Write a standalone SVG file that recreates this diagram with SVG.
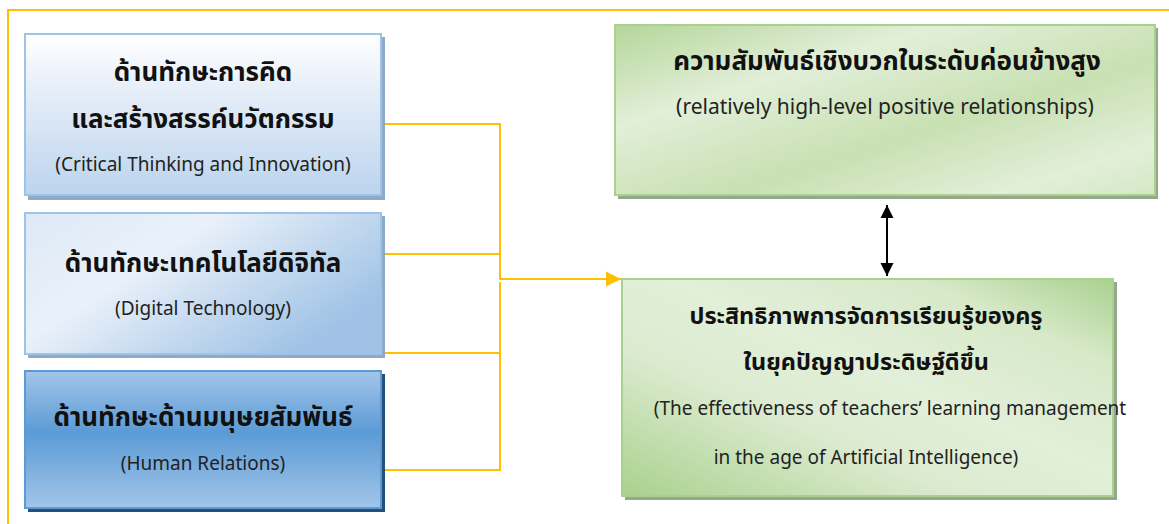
<svg xmlns="http://www.w3.org/2000/svg" width="1169" height="524" viewBox="0 0 1169 524">
<style>
.th{font-family:"Noto Sans Thai","Noto Sans","DejaVu Sans",sans-serif;font-weight:bold;font-size:26px;fill:#111;text-anchor:middle}
.th2{font-size:23.5px}
.en{font-family:"Noto Sans","Liberation Sans",sans-serif;font-size:19px;fill:#222;text-anchor:middle}
.en2{font-size:21px}
.conn{stroke:#ffc000;stroke-width:2;fill:none}
</style>
<defs>
<linearGradient id="gb1" x1="0" y1="0" x2="0" y2="1">
<stop offset="0" stop-color="#ffffff"/><stop offset="0.35" stop-color="#e6eef8"/><stop offset="1" stop-color="#bcd4ee"/>
</linearGradient>
<linearGradient id="gb2" x1="0" y1="0" x2="1" y2="0.6">
<stop offset="0" stop-color="#dde9f6"/><stop offset="0.4" stop-color="#eaf1fa"/><stop offset="0.7" stop-color="#c4d9ef"/><stop offset="1" stop-color="#9fc2e6"/>
</linearGradient>
<linearGradient id="gb3" x1="0" y1="0" x2="0" y2="1">
<stop offset="0" stop-color="#a3c5e9"/><stop offset="0.45" stop-color="#5b9bd5"/><stop offset="1" stop-color="#a3c5e9"/>
</linearGradient>
<linearGradient id="gg" x1="0" y1="0" x2="1" y2="1">
<stop offset="0" stop-color="#b5d69a"/><stop offset="0.3" stop-color="#e2efd9"/><stop offset="0.6" stop-color="#c8e0b2"/><stop offset="0.85" stop-color="#e2efd9"/><stop offset="1" stop-color="#d3e8c4"/>
</linearGradient>
<linearGradient id="gg2" x1="0" y1="1" x2="1" y2="0">
<stop offset="0" stop-color="#a9d18e"/><stop offset="0.35" stop-color="#dcebd0"/><stop offset="0.55" stop-color="#e2efd9"/><stop offset="0.8" stop-color="#d7e9c9"/><stop offset="1" stop-color="#a9d18e"/>
</linearGradient>
<marker id="ya" viewBox="0 0 10 10" refX="10" refY="5" markerWidth="7.5" markerHeight="8" orient="auto" markerUnits="strokeWidth">
<path d="M0,0 L10,5 L0,10 z" fill="#ffc000"/>
</marker>
<marker id="ba" viewBox="0 0 10 10" refX="10" refY="5" markerWidth="6.5" markerHeight="7" orient="auto-start-reverse" markerUnits="strokeWidth">
<path d="M0,0 L10,5 L0,10 z" fill="#000"/>
</marker>
</defs>
<rect width="1169" height="524" fill="#fff"/>
<g id="frame">
<path d="M8,524 V10 H1169" stroke="#ffc000" stroke-width="2" fill="none"/>
</g>
<g id="connectors">
<path class="conn" d="M378,124 H500 V280"/>
<path class="conn" d="M378,254 H500"/>
<path class="conn" d="M378,353 H500"/>
<path class="conn" d="M380,470 H500 V282"/>
<path class="conn" d="M500,279 H621" marker-end="url(#ya)"/>
<path d="M887,205 V276" stroke="#000" stroke-width="2" marker-start="url(#ba)" marker-end="url(#ba)"/>
</g>
<g id="node-critical">
<rect x="28" y="37" width="357" height="163" fill="#8eaac8"/>
<rect x="25" y="34" width="356" height="161" fill="url(#gb1)" stroke="#9dc3e6" stroke-width="2"/>
<text class="th" x="203" y="81">ด้านทักษะการคิด</text>
<text class="th" x="203" y="128">และสร้างสรรค์นวัตกรรม</text>
<text class="en" x="203" y="171">(Critical Thinking and Innovation)</text>
</g>
<g id="node-digital">
<rect x="28" y="216" width="357" height="142" fill="#8eaac8"/>
<rect x="25" y="213" width="356" height="141" fill="url(#gb2)" stroke="#9dc3e6" stroke-width="2"/>
<text class="th" x="203" y="272">ด้านทักษะเทคโนโลยีดิจิทัล</text>
<text class="en" x="203" y="315">(Digital Technology)</text>
</g>
<g id="node-human">
<rect x="28" y="374" width="357" height="138" fill="#264f7a"/>
<rect x="25" y="371" width="356" height="137" fill="url(#gb3)" stroke="#5b9bd5" stroke-width="2"/>
<text class="th" x="203" y="426">ด้านทักษะด้านมนุษยสัมพันธ์</text>
<text class="en" x="203" y="470">(Human Relations)</text>
</g>
<g id="node-relationship">
<rect x="618" y="28" width="540" height="171" fill="#97a78c"/>
<rect x="615" y="25" width="540" height="170" fill="url(#gg)" stroke="#a9d18e" stroke-width="2"/>
<text class="th" x="887" y="70">ความสัมพันธ์เชิงบวกในระดับค่อนข้างสูง</text>
<text class="en en2" x="885" y="114">(relatively high-level positive relationships)</text>
</g>
<g id="node-effectiveness">
<rect x="625" y="282" width="492" height="218" fill="#97a78c"/>
<rect x="622" y="279" width="491" height="217" fill="url(#gg2)" stroke="#a9d18e" stroke-width="2"/>
<text class="th th2" x="866" y="324">ประสิทธิภาพการจัดการเรียนรู้ของครู</text>
<text class="th th2" x="866" y="370">ในยุคปัญญาประดิษฐ์ดีขึ้น</text>
<text class="en" x="890" y="415">(The effectiveness of teachers’ learning management</text>
<text class="en" x="866" y="464">in the age of Artificial Intelligence)</text>
</g>
</svg>
